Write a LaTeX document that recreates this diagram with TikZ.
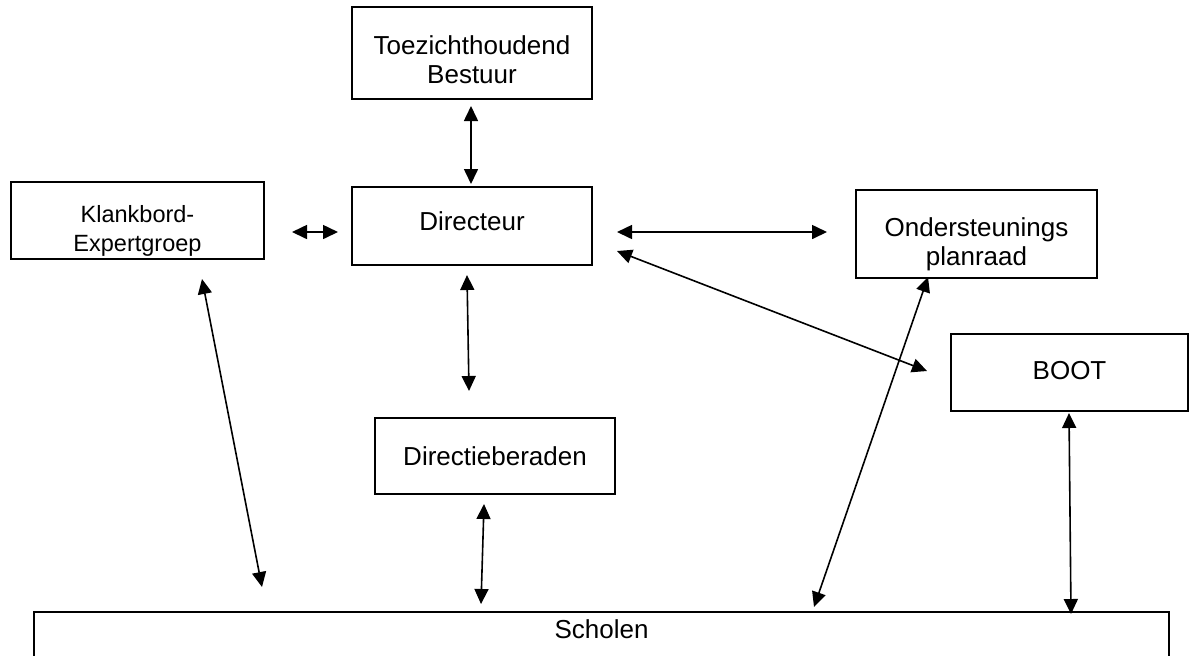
\documentclass[tikz,border=0pt]{standalone}
\usepackage{fontspec}
\setmainfont{Liberation Sans}
\usetikzlibrary{arrows.meta}
\begin{document}
\begin{tikzpicture}[x=0.5pt,y=-0.5pt,
  box/.style={draw, line width=1.1pt, rectangle, inner sep=0pt},
  txt/.style={inner sep=0pt, align=center, font=\fontsize{13}{14.5}\selectfont},
  smalltxt/.style={inner sep=0pt, align=center, font=\fontsize{11.75}{14.5}\selectfont},
  arr/.style={{Triangle[length=7.5pt,width=7pt]}-{Triangle[length=7.5pt,width=7pt]}, line width=0.8pt}]
\useasboundingbox (0,0) rectangle (1192,655);
\clip (0,0) rectangle (1192,655);
% boxes
\node[box, minimum width=120pt, minimum height=46pt,
  label={[txt, yshift=-3.5pt]center:Toezichthoudend\\Bestuur}] (toezicht) at (472,53) {};
\node[box, minimum width=126.5pt, minimum height=38.5pt,
  label={[smalltxt, yshift=-5pt]center:Klankbord-\\Expertgroep}] (klankbord) at (137.5,220.5) {};
\node[box, minimum width=120pt, minimum height=39pt,
  label={[txt, yshift=2.5pt]center:Directeur}] (directeur) at (472,226) {};
\node[box, minimum width=120.5pt, minimum height=44pt,
  label={[txt, yshift=-5pt]center:Ondersteunings\\planraad}] (onder) at (976.5,234) {};
\node[box, minimum width=118.5pt, minimum height=38.5pt,
  label={[txt, yshift=1.2pt]center:BOOT}] (boot) at (1069.5,372.5) {};
\node[box, minimum width=120pt, minimum height=38pt,
  label={[txt]center:Directieberaden}] (dirb) at (495,456) {};
\node[box, anchor=north, minimum width=567.5pt, minimum height=60pt,
  label={[txt, anchor=north, yshift=-4pt]north:Scholen}] (scholen) at (601.5,611) {};
% arrow end points
\coordinate (td1) at (471,106);
\coordinate (td2) at (471,184);
\coordinate (kd1) at (292,232);
\coordinate (kd2) at (338,232);
\coordinate (do1) at (617,232);
\coordinate (do2) at (827,232);
\coordinate (db1) at (617,251);
\coordinate (db2) at (927,371);
\coordinate (dd1) at (467,275);
\coordinate (dd2) at (469,391);
\coordinate (ks1) at (202,279);
\coordinate (ks2) at (262,587);
\coordinate (bs1) at (484,504);
\coordinate (bs2) at (481,604);
\coordinate (os1) at (928,277);
\coordinate (os2) at (814,607);
\coordinate (bts1) at (1069,413);
\coordinate (bts2) at (1071,614);
% connectors
\draw[arr] (td1) -- (td2);
\draw[arr] (kd1) -- (kd2);
\draw[arr] (do1) -- (do2);
\draw[arr] (db1) -- (db2);
\draw[arr] (dd1) -- (dd2);
\draw[arr] (ks1) -- (ks2);
\draw[arr] (bs1) -- (bs2);
\draw[arr] (os1) -- (os2);
\draw[arr] (bts1) -- (bts2);
\end{tikzpicture}
\end{document}
